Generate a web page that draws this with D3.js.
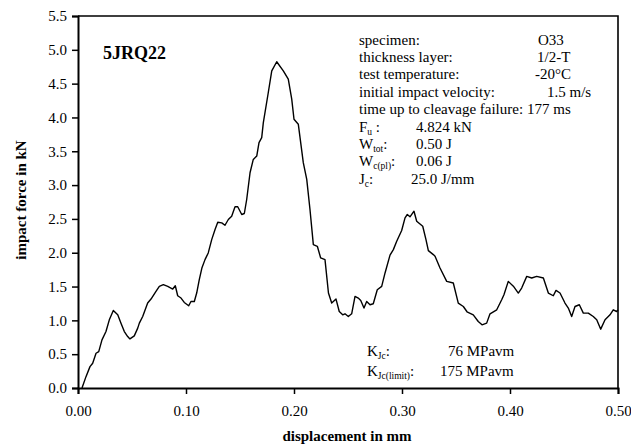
<!DOCTYPE html>
<html>
<head>
<meta charset="utf-8">
<script src="https://cdn.jsdelivr.net/npm/d3@7"></script>
<style>
  html, body { margin: 0; padding: 0; background: #fff; }
  svg { display: block; font-family: "Liberation Serif", "Times New Roman", serif; }
</style>
</head>
<body>
<svg id="chart" width="631" height="446"></svg>
<script>
// Instrumented impact test: force vs. displacement record
const displacement = [
  0.0037, 0.0074, 0.0111, 0.0136, 0.0167, 0.0192, 0.0222, 0.0259, 0.0290, 0.0327,
  0.0368, 0.0398, 0.0429, 0.0460, 0.0481, 0.0521, 0.0553, 0.0568, 0.0599, 0.0645,
  0.0676, 0.0722, 0.0753, 0.0790, 0.0831, 0.0877, 0.0901, 0.0923, 0.0954, 0.0984,
  0.1025, 0.1046, 0.1077, 0.1099, 0.1123, 0.1148, 0.1176, 0.1206, 0.1238, 0.1269,
  0.1294, 0.1331, 0.1361, 0.1392, 0.1423, 0.1454, 0.1479, 0.1516, 0.1540, 0.1562,
  0.1593, 0.1623, 0.1655, 0.1676, 0.1701, 0.1716, 0.1762, 0.1794, 0.1840, 0.1901,
  0.1947, 0.1979, 0.2000, 0.2040, 0.2086, 0.2118, 0.2148, 0.2179, 0.2216, 0.2247,
  0.2287, 0.2319, 0.2349, 0.2389, 0.2419, 0.2451, 0.2472, 0.2503, 0.2534, 0.2565,
  0.2595, 0.2618, 0.2648, 0.2673, 0.2704, 0.2734, 0.2771, 0.2812, 0.2843, 0.2889,
  0.2920, 0.2951, 0.2997, 0.3028, 0.3049, 0.3074, 0.3111, 0.3136, 0.3192, 0.3222,
  0.3244, 0.3290, 0.3306, 0.3352, 0.3414, 0.3475, 0.3521, 0.3568, 0.3602, 0.3660,
  0.3706, 0.3741, 0.3784, 0.3815, 0.3877, 0.3923, 0.3944, 0.3984, 0.4031, 0.4077,
  0.4108, 0.4155, 0.4201, 0.4247, 0.4309, 0.4355, 0.4401, 0.4426, 0.4463, 0.4509,
  0.4540, 0.4571, 0.4602, 0.4642, 0.4679, 0.4725, 0.4771, 0.4803, 0.4840, 0.4880,
  0.4926, 0.4956, 0.4988, 0.5000
];
const force = [
  0.000, 0.168, 0.316, 0.366, 0.514, 0.538, 0.712, 0.835, 1.008, 1.146,
  1.082, 0.959, 0.835, 0.761, 0.726, 0.771, 0.885, 0.959, 1.057, 1.256,
  1.315, 1.428, 1.502, 1.527, 1.502, 1.463, 1.512, 1.364, 1.330, 1.265,
  1.216, 1.279, 1.279, 1.404, 1.601, 1.779, 1.898, 1.997, 2.194, 2.342,
  2.451, 2.442, 2.406, 2.491, 2.540, 2.679, 2.679, 2.565, 2.580, 2.787,
  3.183, 3.380, 3.429, 3.628, 3.702, 3.924, 4.369, 4.689, 4.824, 4.689,
  4.566, 4.270, 3.973, 3.899, 3.331, 3.084, 2.639, 2.120, 2.095, 1.923,
  1.898, 1.404, 1.256, 1.315, 1.131, 1.082, 1.097, 1.057, 1.097, 1.354,
  1.330, 1.294, 1.182, 1.279, 1.231, 1.245, 1.453, 1.502, 1.701, 1.964,
  2.046, 2.169, 2.328, 2.516, 2.565, 2.531, 2.614, 2.466, 2.391, 2.194,
  2.031, 1.972, 1.947, 1.775, 1.576, 1.552, 1.256, 1.205, 1.127, 1.082,
  0.983, 0.934, 0.959, 1.097, 1.156, 1.305, 1.379, 1.576, 1.505, 1.404,
  1.478, 1.650, 1.626, 1.650, 1.626, 1.404, 1.364, 1.443, 1.404, 1.256,
  1.182, 1.057, 1.205, 1.231, 1.107, 1.107, 1.057, 1.008, 0.870, 1.008,
  1.082, 1.156, 1.131, 1.156
];

const xTicks = [0, 0.1, 0.2, 0.3, 0.4, 0.5];
const yTicks = [0, 0.5, 1, 1.5, 2, 2.5, 3, 3.5, 4, 4.5, 5, 5.5];

const sampleId = "5JRQ22";
const testLabels = ["specimen:", "thickness layer:", "test temperature:", "initial impact velocity:", "time up to cleavage failure:"];
const testValues = ["O33", "1/2-T", "-20°C", "1.5 m/s", "177 ms"];
// result symbols: [main letter, subscript, trailing text]
const resultSymbols = [["F", "u", "\u00a0:"], ["W", "tot", ":"], ["W", "c(pl)", ":"], ["J", "c", ":"]];
const peakForce = 4.824;
const resultValues = [peakForce.toFixed(3) + " kN", "0.50 J", "0.06 J", "25.0 J/mm"];
const toughnessSymbols = [["K", "Jc", ":"], ["K", "Jc(limit)", ":"]];
const toughnessValues = ["76 MPavm", "175 MPavm"];

const svg = d3.select("#chart");
const plotL = 78, plotR = 618, plotT = 16, plotB = 388;

const x = d3.scaleLinear().domain([0, 0.5]).range([plotL, plotR]);
const y = d3.scaleLinear().domain([0, 5.5]).range([plotB, plotT]);

// frame (top and right edges)
svg.append("path")
  .attr("d", `M${plotL},${plotT}H${plotR}V${plotB}`)
  .attr("fill", "none").attr("stroke", "#000").attr("stroke-width", 1.6);

// axes
const xAxis = svg.append("g")
  .attr("transform", `translate(0,${plotB})`)
  .call(d3.axisBottom(x).tickValues(xTicks).tickFormat(d3.format(".2f")).tickSize(6).tickPadding(11));
const yAxis = svg.append("g")
  .attr("transform", `translate(${plotL},0)`)
  .call(d3.axisLeft(y).tickValues(yTicks).tickFormat(d3.format(".1f")).tickSize(6).tickPadding(5));

[xAxis, yAxis].forEach(g => {
  g.select(".domain").attr("stroke", "#000").attr("stroke-width", 2);
  g.selectAll(".tick line").attr("stroke", "#000").attr("stroke-width", 1.5);
  g.selectAll(".tick text")
    .attr("fill", "#000")
    .style("font-family", "'Liberation Serif', serif")
    .style("font-size", "15px");
});

// axis titles
svg.append("text")
  .attr("x", 347).attr("y", 441)
  .attr("text-anchor", "middle")
  .style("font-size", "15px").style("font-weight", "bold")
  .text("displacement in mm");
svg.append("text")
  .attr("transform", "translate(26,200) rotate(-90)")
  .attr("text-anchor", "middle")
  .style("font-size", "15px").style("font-weight", "bold")
  .text("impact force in kN");

// force trace
const pts = displacement.map((d, i) => [d, force[i]]);
svg.append("path")
  .datum(pts)
  .attr("fill", "none")
  .attr("stroke", "#000")
  .attr("stroke-width", 1.4)
  .attr("stroke-linejoin", "round")
  .attr("d", d3.line().x(d => x(d[0])).y(d => y(d[1])));

// sample id
svg.append("text")
  .attr("x", 103).attr("y", 59)
  .style("font-size", "18px").style("font-weight", "bold")
  .text(sampleId);

// test conditions block
const infoX = 359, lineH = 17.4, firstBase = 44.5;
const valueXs = [538, 537, 535, 547, 527];
testLabels.forEach((t, i) => {
  svg.append("text").attr("x", infoX).attr("y", firstBase + i * lineH)
    .style("font-size", "15px").text(t);
  svg.append("text").attr("x", valueXs[i]).attr("y", firstBase + i * lineH)
    .style("font-size", "15px").text(testValues[i]);
});

// symbol with a lowered subscript, drawn as separate text pieces
function symbol(xp, yp, parts) {
  const main = svg.append("text").attr("x", xp).attr("y", yp)
    .style("font-size", "15px").text(parts[0]);
  const w = main.node().getComputedTextLength();
  const sub = svg.append("text").attr("x", xp + w).attr("y", yp + 3)
    .style("font-size", "9.5px").text(parts[1]);
  const ws = sub.node().getComputedTextLength();
  svg.append("text").attr("x", xp + w + ws).attr("y", yp)
    .style("font-size", "15px").text(parts[2]);
}

const resultValueXs = [416, 416, 416, 411];
resultSymbols.forEach((s, i) => {
  const yb = firstBase + (i + 5) * lineH;
  symbol(infoX, yb, s);
  svg.append("text").attr("x", resultValueXs[i]).attr("y", yb)
    .style("font-size", "15px").text(resultValues[i]);
});

// fracture toughness results
const kValueXs = [448, 440];
toughnessSymbols.forEach((s, i) => {
  const yb = 356 + i * 20;
  symbol(367, yb, s);
  svg.append("text").attr("x", kValueXs[i]).attr("y", yb)
    .style("font-size", "15px").text(toughnessValues[i]);
});
</script>
</body>
</html>
